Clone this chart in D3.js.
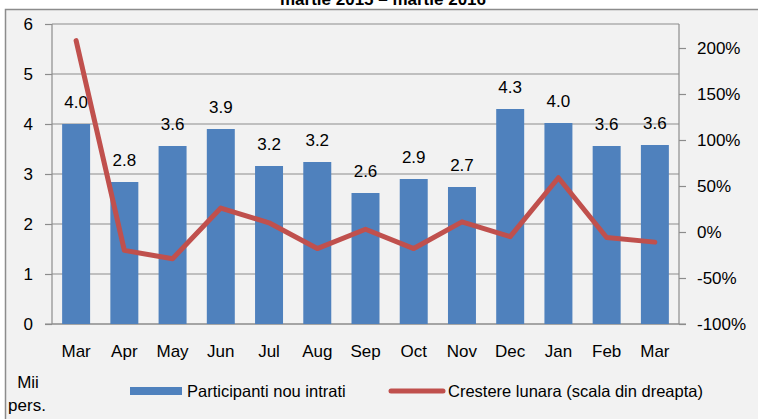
<!DOCTYPE html>
<html>
<head>
<meta charset="utf-8">
<script src="https://cdn.jsdelivr.net/npm/d3@7"></script>
<style>
  body { margin: 0; background: #fff; }
  svg text { font-family: "Liberation Sans", Arial, sans-serif; fill: #000; }
</style>
</head>
<body>
<svg id="chart" width="758" height="419"></svg>
<script>
// months, Mar 2015 - Mar 2016
var months = ["Mar", "Apr", "May", "Jun", "Jul", "Aug", "Sep", "Oct", "Nov", "Dec", "Jan", "Feb", "Mar"];
// new participants (thousand persons)
var participants = [4.0, 2.84, 3.56, 3.9, 3.16, 3.24, 2.62, 2.9, 2.74, 4.3, 4.02, 3.56, 3.58];
var participantLabels = ["4.0", "2.8", "3.6", "3.9", "3.2", "3.2", "2.6", "2.9", "2.7", "4.3", "4.0", "3.6", "3.6"];
// monthly growth, %
var growth = [208, -20, -29, 26, 10, -18, 3, -18, 11, -5, 59, -6, -11];
var leftTicks = [0, 1, 2, 3, 4, 5, 6];
var rightTicks = [-100, -50, 0, 50, 100, 150, 200];

var svg = d3.select("#chart");
var plot = {left: 52, right: 679, top: 24, bottom: 324};

// chart area background + border
svg.append("rect")
    .attr("x", 5.5).attr("y", 9.5)
    .attr("width", 800).attr("height", 500)
    .attr("fill", "#f2f2f2")
    .attr("stroke", "#8c8c8c")
    .attr("stroke-width", 1.5);

// title (top of it is cut off, as in the original)
svg.append("text")
    .attr("x", 383).attr("y", 5)
    .attr("text-anchor", "middle")
    .style("font-size", "17px").style("font-weight", "bold")
    .text("martie 2015 – martie 2016");

var x = d3.scaleBand().domain(d3.range(months.length))
    .range([plot.left, plot.right]).paddingInner(0.42).paddingOuter(0.21);
var y = d3.scaleLinear().domain([0, 6]).range([plot.bottom, plot.top]);
var y2 = d3.scaleLinear().domain([-100, 200]).range([plot.bottom, 48]);

// gridlines
svg.append("g").selectAll("line")
    .data(leftTicks).enter().append("line")
    .attr("x1", plot.left).attr("x2", plot.right)
    .attr("y1", d => y(d)).attr("y2", d => y(d))
    .attr("stroke", "#8c8c8c").attr("stroke-width", 1.2);

// left axis
var leftAxis = svg.append("g")
    .attr("transform", "translate(" + plot.left + ",0)")
    .call(d3.axisLeft(y).tickValues(leftTicks).tickFormat(d3.format("d"))
        .tickSize(7).tickSizeOuter(0).tickPadding(12));
leftAxis.selectAll("path, line").attr("stroke", "#8c8c8c").attr("stroke-width", 1.2);
leftAxis.selectAll("text").style("font-size", "17px").style("font-family", null);
leftAxis.select(".domain").attr("d", "M0," + plot.bottom + "V" + plot.top);

// right axis
var rightAxis = svg.append("g")
    .attr("transform", "translate(" + plot.right + ",0)")
    .call(d3.axisRight(y2).tickValues(rightTicks).tickSize(7).tickSizeOuter(0).tickPadding(11)
        .tickFormat(d => d + "%"));
rightAxis.selectAll("path, line").attr("stroke", "#8c8c8c").attr("stroke-width", 1.2);
rightAxis.selectAll("text").style("font-size", "17px").style("font-family", null);
rightAxis.select(".domain").attr("d", "M0," + plot.bottom + "V" + plot.top);

// bottom axis line
svg.append("line")
    .attr("x1", plot.left - 7).attr("x2", plot.right + 7)
    .attr("y1", plot.bottom).attr("y2", plot.bottom)
    .attr("stroke", "#8c8c8c").attr("stroke-width", 1.2);

// bars
svg.append("g").selectAll("rect")
    .data(participants).enter().append("rect")
    .attr("x", (d, i) => x(i))
    .attr("width", x.bandwidth())
    .attr("y", d => y(d))
    .attr("height", d => plot.bottom - y(d))
    .attr("fill", "#4f81bd");

// bar labels
svg.append("g").selectAll("text")
    .data(participants).enter().append("text")
    .attr("x", (d, i) => x(i) + x.bandwidth() / 2)
    .attr("y", d => y(d) - 16)
    .attr("text-anchor", "middle")
    .style("font-size", "17px")
    .text((d, i) => participantLabels[i]);

// growth line
var line = d3.line()
    .x((d, i) => x(i) + x.bandwidth() / 2)
    .y(d => y2(d));
svg.append("path")
    .datum(growth)
    .attr("d", line)
    .attr("fill", "none")
    .attr("stroke", "#c0504d")
    .attr("stroke-width", 5)
    .attr("stroke-linejoin", "round")
    .attr("stroke-linecap", "round");

// month labels
svg.append("g").selectAll("text")
    .data(months).enter().append("text")
    .attr("x", (d, i) => x(i) + x.bandwidth() / 2)
    .attr("y", 357)
    .attr("text-anchor", "middle")
    .style("font-size", "17px")
    .text(d => d);

// unit label
svg.append("text").attr("x", 28).attr("y", 388).attr("text-anchor", "middle")
    .style("font-size", "17px").text("Mii");
svg.append("text").attr("x", 27).attr("y", 411).attr("text-anchor", "middle")
    .style("font-size", "17px").text("pers.");

// legend
svg.append("rect").attr("x", 130).attr("y", 387).attr("width", 52).attr("height", 8)
    .attr("fill", "#4f81bd");
svg.append("text").attr("x", 187).attr("y", 397)
    .style("font-size", "16.5px").text("Participanti nou intrati");
svg.append("line").attr("x1", 391).attr("x2", 443).attr("y1", 391).attr("y2", 391)
    .attr("stroke", "#c0504d").attr("stroke-width", 5).attr("stroke-linecap", "round");
svg.append("text").attr("x", 448).attr("y", 397)
    .style("font-size", "16.5px").text("Crestere lunara (scala din dreapta)");
</script>
</body>
</html>
